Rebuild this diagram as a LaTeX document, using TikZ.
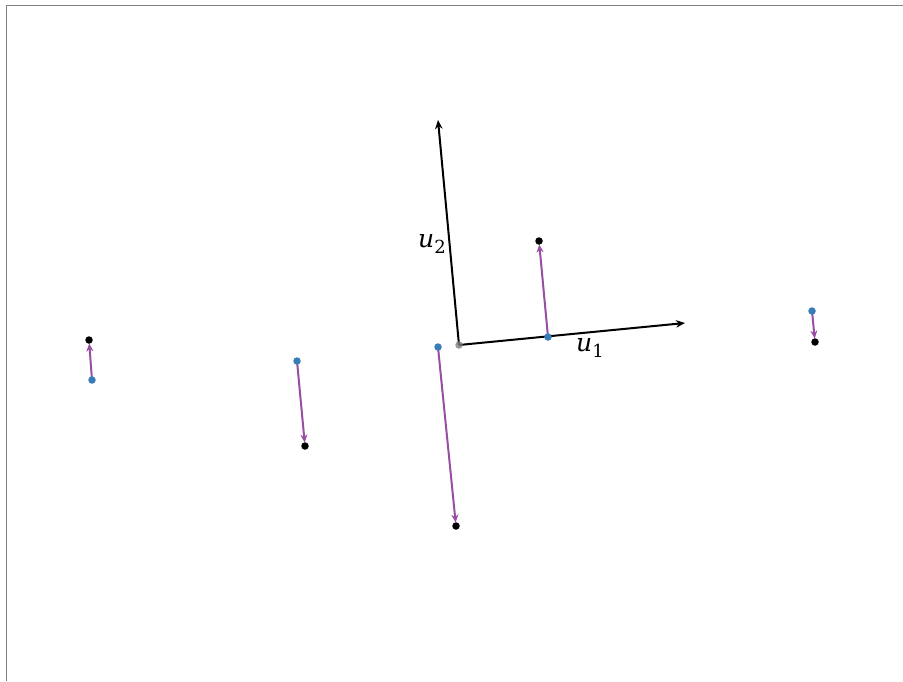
\documentclass[tikz,border=0pt]{standalone}
\usepackage{fontspec}
\newfontfamily\labfont{DejaVu Serif}
\usetikzlibrary{arrows.meta}
\definecolor{setblue}{HTML}{377EB8}
\definecolor{setpurple}{HTML}{984EA3}
\tikzset{
  dotb/.style={circle,fill=setblue,inner sep=0pt,minimum size=7.5pt},
  dotk/.style={circle,fill=black,inner sep=0pt,minimum size=7.5pt},
  doto/.style={circle,fill=gray,fill opacity=0.8,inner sep=0pt,minimum size=7.5pt},
  resid/.style={setpurple,line width=2pt,-{Stealth[length=8pt,width=7pt]},shorten >=3.5pt},
  axis/.style={black,line width=2pt,-{Stealth[length=9pt,width=7.5pt]}},
  lab/.style={font=\labfont\fontsize{25}{28}\selectfont\itshape,inner sep=0pt},
  frame/.style={gray,line width=1.5pt}
}
\newcommand{\sublab}[2]{#1\lower6pt\hbox{\upshape\fontsize{18}{18}\selectfont #2}}
\begin{document}
\begin{tikzpicture}[x=1pt,y=-1pt]
\useasboundingbox (0,0) rectangle (903,681);
\fill[white] (0,0) rectangle (903,681);
\coordinate (fa) at (6.5,681);
\coordinate (fb) at (6.5,5.5);
\coordinate (fc) at (903,5.5);
\draw[frame] (fa) -- (fb) -- (fc);
% origin and axes
\coordinate (o) at (459,345);
\coordinate (t1) at (685,323);
\coordinate (t2) at (438,120);
\draw[axis] (o) -- (t1);
\draw[axis] (o) -- (t2);
\node[lab] (l1) at (590,348) {\sublab{u}{1}};
\node[lab] (l2) at (432,244) {\sublab{u}{2}};
% projections (blue) and points (black)
\coordinate (p1) at (92,380);  \coordinate (q1) at (89,340);
\coordinate (p2) at (297,361); \coordinate (q2) at (305,446);
\coordinate (p3) at (438,347); \coordinate (q3) at (456,526);
\coordinate (p4) at (548,337); \coordinate (q4) at (539,241);
\coordinate (p5) at (812,311); \coordinate (q5) at (815,342);
\foreach \i in {1,...,5} {
  \draw[resid] (p\i) -- (q\i);
}
\node[doto] (od) at (o) {};
\foreach \i in {1,...,5} {
  \node[dotb] (pb\i) at (p\i) {};
  \node[dotk] (qk\i) at (q\i) {};
}
\end{tikzpicture}
\end{document}
